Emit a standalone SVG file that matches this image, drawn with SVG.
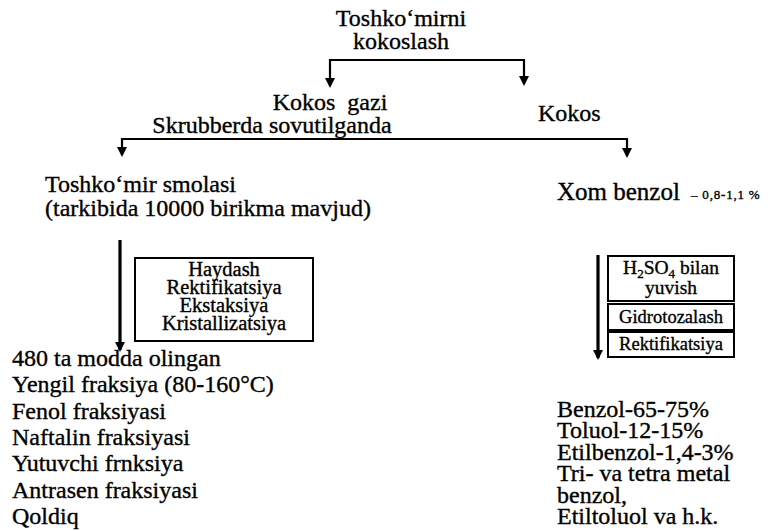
<svg xmlns="http://www.w3.org/2000/svg" width="775" height="531" viewBox="0 0 775 531" font-family="'Liberation Serif', 'DejaVu Serif', serif">
<style>
text{font-family:"Liberation Serif","DejaVu Serif",serif;fill:#000;stroke:#000;stroke-width:0.35}
.t{font-size:24px}
.c{text-anchor:middle}
.b{font-size:18.5px}
.bx{fill:#fff;stroke:#000;stroke-width:2}
.ln{fill:none;stroke:#000;stroke-width:2.2}
.th{fill:none;stroke:#000;stroke-width:3.2}
</style>
<defs>
<marker id="ah" viewBox="0 0 10 10" refX="8" refY="5" markerWidth="10" markerHeight="11" markerUnits="userSpaceOnUse" orient="auto">
<path d="M0,0 L10,5 L0,10 z" fill="#000"/>
</marker>
</defs>
<rect width="775" height="531" fill="#fff"/>
<g id="connectors">
<path class="ln" d="M427,60 H330 V86" marker-end="url(#ah)"/>
<path class="ln" d="M427,60 H524 V84" marker-end="url(#ah)"/>
<path class="ln" d="M375,139 H122 V155" marker-end="url(#ah)"/>
<path class="ln" d="M375,139 H627 V156" marker-end="url(#ah)"/>
<path class="th" d="M120,240 V350" marker-end="url(#ah)"/>
<path class="th" d="M598,255 V358" marker-end="url(#ah)"/>
</g>
<g id="title">
<text class="t c" x="401" y="26">Toshko‘mirni</text>
<text class="t c" x="401" y="49">kokoslash</text>
</g>
<g id="kokos-gazi">
<text class="t c" x="330" y="110" style="white-space:pre">Kokos  gazi</text>
<text class="t c" x="272" y="133">Skrubberda sovutilganda</text>
</g>
<g id="kokos">
<text class="t" x="538" y="121">Kokos</text>
</g>
<g id="smola">
<text class="t" x="45" y="192">Toshko‘mir smolasi</text>
<text class="t" x="45" y="216">(tarkibida 10000 birikma mavjud)</text>
</g>
<g id="xom-benzol">
<text x="557" y="200" font-size="25">Xom benzol</text>
<text x="691" y="199" font-size="13" letter-spacing="0.8" stroke-width="0.2">– 0,8-1,1 %</text>
</g>
<g id="box-left">
<rect class="bx" x="135" y="258" width="178" height="83"/>
<text class="c" x="224" y="276" font-size="20.5">Haydash</text>
<text class="c" x="224" y="294" font-size="20.5">Rektifikatsiya</text>
<text class="c" x="224" y="312" font-size="20.5">Ekstaksiya</text>
<text class="c" x="224" y="330" font-size="20.5">Kristallizatsiya</text>
</g>
<g id="box-h2so4">
<rect class="bx" x="608" y="256" width="126" height="45"/>
<text class="c" x="671" y="274" font-size="19.5">H<tspan font-size="13" dy="4">2</tspan><tspan dy="-4">SO</tspan><tspan font-size="13" dy="4">4</tspan><tspan dy="-4"> bilan</tspan></text>
<text class="c" x="671" y="294" font-size="19.5">yuvish</text>
</g>
<g id="box-gidro">
<rect class="bx" x="608" y="304" width="126" height="26"/>
<text class="b c" x="671" y="323">Gidrotozalash</text>
</g>
<g id="box-rekt">
<rect class="bx" x="608" y="332" width="126" height="25"/>
<text class="b c" x="671" y="350">Rektifikatsiya</text>
</g>
<g id="list-left">
<text class="t" x="12" y="366">480 ta modda olingan</text>
<text class="t" x="12" y="392.3">Yengil fraksiya (80-160°C)</text>
<text class="t" x="12" y="418.6">Fenol fraksiyasi</text>
<text class="t" x="12" y="445">Naftalin fraksiyasi</text>
<text class="t" x="12" y="471.3">Yutuvchi frnksiya</text>
<text class="t" x="12" y="497.6">Antrasen fraksiyasi</text>
<text class="t" x="12" y="524">Qoldiq</text>
</g>
<g id="list-right">
<text class="t" x="557" y="417">Benzol-65-75%</text>
<text class="t" x="557" y="438.4">Toluol-12-15%</text>
<text class="t" x="557" y="459.8">Etilbenzol-1,4-3%</text>
<text class="t" x="557" y="481.2">Tri- va tetra metal</text>
<text class="t" x="557" y="502.6">benzol,</text>
<text class="t" x="557" y="524">Etiltoluol va h.k.</text>
</g>
</svg>
